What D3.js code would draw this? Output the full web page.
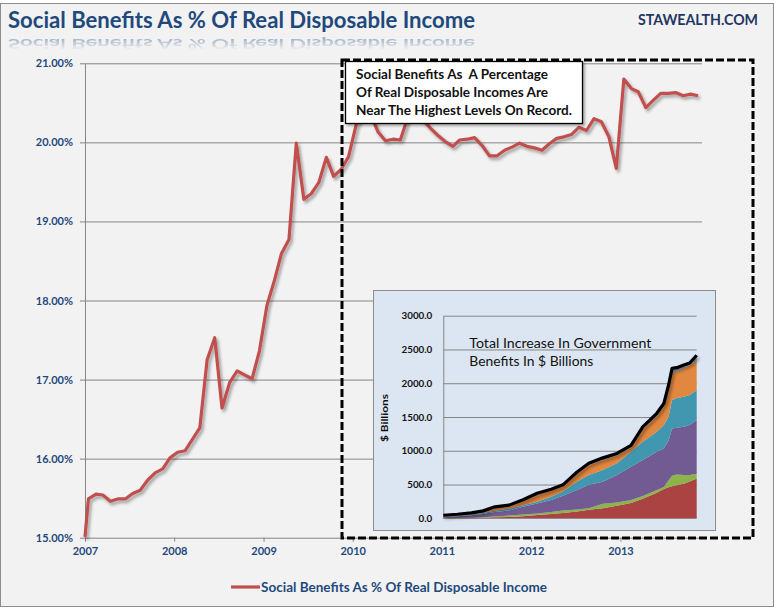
<!DOCTYPE html>
<html><head><meta charset="utf-8">
<script src="https://cdn.jsdelivr.net/npm/d3@7"></script>
<style>
html,body{margin:0;padding:0;background:#fff;}
svg{display:block;}
text{font-family:Lato,"Open Sans",sans-serif;}
</style></head><body>
<svg id="chart" width="780" height="610"></svg>
<script>
// ---------- Main series (monthly, plotted mid-month) ----------
const dates = ["2007-01-01",
"2007-01-15","2007-02-15","2007-03-15","2007-04-15","2007-05-15","2007-06-15","2007-07-15","2007-08-15","2007-09-15","2007-10-15","2007-11-15","2007-12-15",
"2008-01-15","2008-02-15","2008-03-15","2008-04-15","2008-05-15","2008-06-15","2008-07-15","2008-08-15","2008-09-15","2008-10-15","2008-11-15","2008-12-15",
"2009-01-15","2009-02-15","2009-03-15","2009-04-15","2009-05-15","2009-06-15","2009-07-15","2009-08-15","2009-09-15","2009-10-15","2009-11-15","2009-12-15",
"2010-01-15","2010-02-15","2010-03-15","2010-04-15","2010-05-15","2010-06-15","2010-07-15","2010-08-15","2010-09-15","2010-10-15","2010-11-15","2010-12-15",
"2011-01-15","2011-02-15","2011-03-15","2011-04-15","2011-05-15","2011-06-15","2011-07-15","2011-08-15","2011-09-15","2011-10-15","2011-11-15","2011-12-15",
"2012-01-15","2012-02-15","2012-03-15","2012-04-15","2012-05-15","2012-06-15","2012-07-15","2012-08-15","2012-09-15","2012-10-15","2012-11-15","2012-12-15",
"2013-01-15","2013-02-15","2013-03-15","2013-04-15","2013-05-15","2013-06-15","2013-07-15","2013-08-15","2013-09-15","2013-10-15","2013-11-15"];
const benefitPct = [15.01,
15.49,15.55,15.54,15.46,15.49,15.49,15.56,15.60,15.73,15.82,15.87,16.01,
16.08,16.10,16.24,16.39,17.25,17.53,16.64,16.96,17.11,17.06,17.01,17.36,
17.94,18.26,18.59,18.77,19.99,19.28,19.35,19.49,19.81,19.57,19.66,19.82,
20.22,20.38,20.36,20.13,20.02,20.04,20.03,20.32,20.36,20.29,20.18,20.09,
20.01,19.95,20.03,20.04,20.06,19.96,19.83,19.83,19.90,19.94,19.99,19.95,
19.93,19.90,19.98,20.05,20.07,20.10,20.19,20.15,20.30,20.26,20.07,19.67,
20.80,20.68,20.64,20.44,20.53,20.62,20.62,20.63,20.59,20.61,20.59];
const yTicks = [15,16,17,18,19,20,21];
const xTickYears = ["2007","2008","2009","2010","2011","2012","2013"];

// ---------- Inset: stacked government benefits ($ billions, layer amounts) ----------
const insetYears = [1959,1962,1965,1967.5,1970,1973,1976,1979,1982,1984.5,1987.5,1990,1993,1996,1999,2001.5,2004.5,2006,2007,2007.75,2008.75,2010.25,2011.5,2013];
const insetRed    = [0,2,5,8,14,20,30,50,65,80,100,125,150,185,225,290,380,435,460,475,490,510,545,590];
const insetGreen  = [0,1,3,7,14,20,25,20,30,35,30,25,65,50,45,40,40,30,100,155,160,130,95,70];
const insetPurple = [15,27,37,50,67,75,115,150,175,220,290,345,325,405,495,535,565,570,590,700,690,715,740,795];
const insetTeal   = [8,9,10,12,17,25,25,25,50,60,120,145,175,175,220,270,295,345,350,420,440,445,445,445];
const insetOrange = [14,13,14,22,45,40,60,105,90,80,120,150,150,120,60,185,240,270,400,390,400,420,445,430];
const insetOther  = [8,8,11,11,13,15,20,20,20,20,25,25,30,25,35,35,35,50,70,80,50,50,30,85];
const insetTicks = [0,500,1000,1500,2000,2500,3000];

const blue = "#1f497d";
const svg = d3.select("#chart");
const defs = svg.append("defs");

// filters
const sh = defs.append("filter").attr("id","shadow").attr("x","-10%").attr("y","-10%").attr("width","130%").attr("height","130%");
sh.append("feDropShadow").attr("dx",2).attr("dy",2.5).attr("stdDeviation",1.4).attr("flood-color","#000").attr("flood-opacity",0.35);
const sh2 = defs.append("filter").attr("id","boxshadow").attr("x","-5%").attr("y","-10%").attr("width","115%").attr("height","130%");
sh2.append("feDropShadow").attr("dx",2).attr("dy",2).attr("stdDeviation",1.2).attr("flood-color","#000").attr("flood-opacity",0.3);
const rg = defs.append("linearGradient").attr("id","reflGrad").attr("gradientUnits","userSpaceOnUse")
  .attr("x1",0).attr("y1",36).attr("x2",0).attr("y2",50);
rg.append("stop").attr("offset",0).attr("stop-color","#fff").attr("stop-opacity",0.45);
rg.append("stop").attr("offset",1).attr("stop-color","#fff").attr("stop-opacity",0);
const mask = defs.append("mask").attr("id","reflMask").attr("maskUnits","userSpaceOnUse")
  .attr("x",0).attr("y",0).attr("width",780).attr("height",80);
mask.append("rect").attr("x",0).attr("y",36).attr("width",780).attr("height",15).attr("fill","url(#reflGrad)");

// chart background
svg.append("rect").attr("x",0.5).attr("y",3.5).attr("width",773).attr("height",603)
  .attr("fill","#f2f2f2").attr("stroke","#8c8c8c");

// title + faint compressed reflection
const titleText = "Social Benefits As % Of Real Disposable Income";
svg.append("text").attr("x",8).attr("y",28).attr("font-size",23).attr("font-weight","bold")
  .attr("fill",blue).attr("textLength",467).attr("lengthAdjust","spacingAndGlyphs").text(titleText);
svg.append("g").attr("mask","url(#reflMask)")
  .append("text").attr("transform","translate(0,55.5) scale(1,-0.6)")
  .attr("x",8).attr("y",28).attr("font-size",23).attr("font-weight","bold")
  .attr("fill",blue).attr("textLength",467).attr("lengthAdjust","spacingAndGlyphs").text(titleText);
svg.append("text").attr("x",758).attr("y",25).attr("text-anchor","end").attr("font-size",15)
  .attr("font-weight","bold").attr("fill","#1f3864").attr("textLength",120).attr("lengthAdjust","spacingAndGlyphs")
  .text("STAWEALTH.COM");

// scales
const parse = d3.timeParse("%Y-%m-%d");
const x = d3.scaleTime().domain([parse("2007-01-01"), parse("2013-12-01")]).range([85, 702]);
const y = d3.scaleLinear().domain([15, 21]).range([537.7, 63.3]);

// gridlines
const grid = svg.append("g").attr("transform","translate(85,0)")
  .call(d3.axisLeft(y).tickValues(yTicks.filter(v=>v>15)).tickSize(-617).tickFormat(""));
grid.select(".domain").remove();
grid.selectAll("line").attr("stroke","#868686").attr("stroke-width",1);

// y axis
const yAx = svg.append("g").attr("transform","translate(85,0)")
  .call(d3.axisLeft(y).tickValues(yTicks).tickSize(5).tickSizeOuter(0).tickPadding(7)
    .tickFormat(d => d.toFixed(2) + "%"));
yAx.select(".domain").attr("stroke","#868686");
yAx.selectAll("line").attr("stroke","#868686");
yAx.selectAll("text").attr("font-family","Lato").attr("font-size",11).attr("font-weight","bold").attr("fill",blue);

// x axis
const xAx = svg.append("g").attr("transform","translate(0,537.7)")
  .call(d3.axisBottom(x).tickValues(xTickYears.map(s => parse(s + "-01-01"))).tickSize(4).tickSizeOuter(0)
    .tickPadding(6).tickFormat(d3.timeFormat("%Y")));
xAx.select(".domain").attr("stroke","#868686");
xAx.selectAll("line").attr("stroke","#868686");
xAx.selectAll("text").attr("font-family","Lato").attr("font-size",11).attr("font-weight","bold").attr("fill",blue);

// main line
const mainData = dates.map((d,i) => ({date: parse(d), v: benefitPct[i]}));
svg.append("path").datum(mainData)
  .attr("d", d3.line().x(d => x(d.date)).y(d => y(d.v)))
  .attr("fill","none").attr("stroke","#c0504d").attr("stroke-width",3.2)
  .attr("stroke-linejoin","round").attr("filter","url(#shadow)");

// dashed highlight box
svg.append("rect").attr("x",342).attr("y",60).attr("width",411).attr("height",478)
  .attr("fill","none").attr("stroke","#000").attr("stroke-width",3).attr("stroke-dasharray","8,3");

// annotation box
svg.append("rect").attr("x",345.5).attr("y",61.5).attr("width",237).attr("height",62)
  .attr("fill","#fff").attr("stroke","#000").attr("stroke-width",1.3).attr("filter","url(#boxshadow)");
const noteLines = [["Social Benefits As  A Percentage",78.5,192],["Of Real Disposable Incomes Are",96.5,192],["Near The Highest Levels On Record.",114.5,216]];
noteLines.forEach(([t,yy,w]) => {
  svg.append("text").attr("x",356).attr("y",yy).attr("font-size",13).attr("font-weight","bold")
    .attr("fill","#111").style("white-space","pre").attr("textLength",w).attr("lengthAdjust","spacingAndGlyphs").text(t);
});

// ---------- inset ----------
svg.append("rect").attr("x",373.5).attr("y",290.5).attr("width",342).attr("height",240)
  .attr("fill","#dce6f2").attr("stroke","#8c8c8c").attr("stroke-width",1);
const ix = d3.scaleLinear().domain([1959, 2013]).range([443.3, 696.7]);
const iy = d3.scaleLinear().domain([0, 3000]).range([518.3, 315.7]);

const igrid = svg.append("g").attr("transform","translate(443.3,0)")
  .call(d3.axisLeft(iy).tickValues(insetTicks.filter(v=>v>0)).tickSize(-253.4).tickFormat(""));
igrid.select(".domain").remove();
igrid.selectAll("line").attr("stroke","#868686");

const iyAx = svg.append("g").attr("transform","translate(443.3,0)")
  .call(d3.axisLeft(iy).tickValues(insetTicks).tickSize(0).tickPadding(11).tickFormat(d3.format(".1f")));
iyAx.select(".domain").attr("stroke","#868686");
iyAx.selectAll("text").attr("font-family","DejaVu Sans").attr("font-size",9.8).attr("font-weight","bold").attr("fill","#111");
svg.append("line").attr("x1",443.3).attr("x2",696.7).attr("y1",518.3).attr("y2",518.3).attr("stroke","#868686");

const keys = ["red","green","purple","teal","orange","other"];
const colors = {red:"#aa4341", green:"#8db34b", purple:"#725a92", teal:"#4197b0", orange:"#e2873f", other:"#7f93b7"};
const rows = insetYears.map((yr,i) => ({yr, red:insetRed[i], green:insetGreen[i], purple:insetPurple[i], teal:insetTeal[i], orange:insetOrange[i], other:insetOther[i]}));
const stacked = d3.stack().keys(keys)(rows);
const area = d3.area().x(d => ix(d.data.yr)).y0(d => iy(d[0])).y1(d => iy(d[1]));
svg.append("g").selectAll("path").data(stacked).join("path")
  .attr("d", area).attr("fill", d => colors[d.key]);
svg.append("path").datum(stacked[stacked.length-1])
  .attr("d", d3.line().x(d => ix(d.data.yr)).y(d => iy(d[1])))
  .attr("fill","none").attr("stroke","#000").attr("stroke-width",3.2).attr("stroke-linejoin","round")
  .attr("filter","url(#shadow)");

svg.append("text").attr("transform","translate(388,418) rotate(-90)").attr("text-anchor","middle")
  .attr("font-family","DejaVu Sans").attr("font-size",10).attr("font-weight","bold").attr("fill","#111")
  .attr("textLength",48).attr("lengthAdjust","spacingAndGlyphs").text("$ Billions");
svg.append("text").attr("x",469.3).attr("y",348).attr("font-size",13.5).attr("fill","#111")
  .attr("textLength",182).attr("lengthAdjust","spacingAndGlyphs").text("Total Increase In Government");
svg.append("text").attr("x",469.3).attr("y",366).attr("font-size",13.5).attr("fill","#111")
  .attr("textLength",124).attr("lengthAdjust","spacingAndGlyphs").text("Benefits In $ Billions");

// legend
svg.append("line").attr("x1",231).attr("x2",260).attr("y1",587).attr("y2",587)
  .attr("stroke","#c0504d").attr("stroke-width",3.2);
svg.append("text").attr("x",261).attr("y",591.5).attr("font-size",12.5).attr("font-weight","bold")
  .attr("fill",blue).attr("textLength",286).attr("lengthAdjust","spacingAndGlyphs")
  .text("Social Benefits As % Of Real Disposable Income");
</script>
</body></html>
